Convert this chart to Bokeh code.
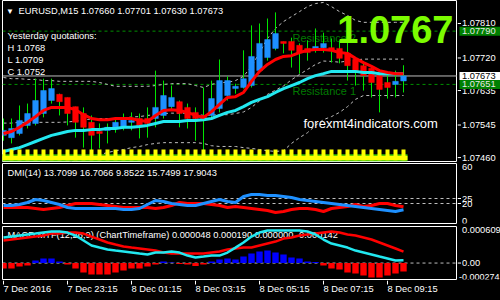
from bokeh.plotting import figure
from bokeh.layouts import column, row
from bokeh.models import Range1d, Span, Label, ColumnDataSource
from bokeh.embed import file_html
from bokeh.resources import INLINE
from bokeh.core.properties import value

# ---------------- data ----------------
bars = list(range(51))
opens = [1.07518, 1.07512, 1.07523, 1.07544, 1.07549, 1.07575, 1.07609, 1.07625, 1.07617, 1.07593,
         1.07575, 1.07552, 1.07528, 1.07531, 1.07539, 1.07541, 1.07552, 1.07562, 1.07562, 1.07562,
         1.07570, 1.07593, 1.07606, 1.07591, 1.07578, 1.07570, 1.07570, 1.07588, 1.07622, 1.07640,
         1.07643, 1.07648, 1.07687, 1.07721, 1.07745, 1.07763, 1.07763, 1.07753, 1.07745, 1.07742,
         1.07747, 1.07747, 1.07745, 1.07732, 1.07716, 1.07700, 1.07693, 1.07674, 1.07656, 1.07651,
         1.07660]
highs = [1.07562, 1.07562, 1.07596, 1.07601, 1.07666, 1.07666, 1.07666, 1.07627, 1.07617, 1.07593,
         1.07591, 1.07570, 1.07549, 1.07549, 1.07562, 1.07575, 1.07578, 1.07575, 1.07591, 1.07687,
         1.07661, 1.07648, 1.07609, 1.07601, 1.07591, 1.07643, 1.07661, 1.07716, 1.07672, 1.07653,
         1.07740, 1.07805, 1.07810, 1.07823, 1.07839, 1.07763, 1.07773, 1.07758, 1.07766, 1.07797,
         1.07786, 1.07771, 1.07766, 1.07773, 1.07721, 1.07706, 1.07695, 1.07682, 1.07682, 1.07687,
         1.07701]
lows = [1.07504, 1.07497, 1.07518, 1.07536, 1.07544, 1.07565, 1.07601, 1.07570, 1.07544, 1.07512,
        1.07486, 1.07478, 1.07484, 1.07497, 1.07525, 1.07531, 1.07531, 1.07510, 1.07512, 1.07539,
        1.07562, 1.07583, 1.07539, 1.07536, 1.07504, 1.07478, 1.07562, 1.07578, 1.07609, 1.07627,
        1.07640, 1.07643, 1.07682, 1.07713, 1.07740, 1.07732, 1.07695, 1.07679, 1.07713, 1.07734,
        1.07734, 1.07708, 1.07706, 1.07661, 1.07648, 1.07635, 1.07617, 1.07578, 1.07614, 1.07617,
        1.07630]
closes = [1.07531, 1.07536, 1.07557, 1.07575, 1.07609, 1.07635, 1.07640, 1.07606, 1.07575, 1.07552,
          1.07539, 1.07518, 1.07523, 1.07539, 1.07552, 1.07559, 1.07557, 1.07544, 1.07549, 1.07591,
          1.07622, 1.07617, 1.07575, 1.07562, 1.07562, 1.07562, 1.07614, 1.07661, 1.07661, 1.07646,
          1.07666, 1.07724, 1.07758, 1.07768, 1.07784, 1.07758, 1.07740, 1.07734, 1.07734, 1.07750,
          1.07758, 1.07740, 1.07719, 1.07700, 1.07682, 1.07674, 1.07656, 1.07638, 1.07643, 1.07659,
          1.07673]
ma_fast = [1.07523, 1.07528, 1.07539, 1.07552, 1.07567, 1.07583, 1.07591, 1.07591, 1.07591, 1.07585,
           1.07572, 1.07562, 1.07559, 1.07559, 1.07562, 1.07562, 1.07562, 1.07557, 1.07554, 1.07570,
           1.07583, 1.07585, 1.07583, 1.07578, 1.07570, 1.07565, 1.07580, 1.07599, 1.07617, 1.07619,
           1.07630, 1.07659, 1.07685, 1.07703, 1.07716, 1.07724, 1.07726, 1.07734, 1.07740, 1.07742,
           1.07742, 1.07740, 1.07734, 1.07732, 1.07719, 1.07708, 1.07698, 1.07687, 1.07682, 1.07679,
           1.07679]
ma_slow = [1.07476, 1.07481, 1.07486, 1.07494, 1.07502, 1.07510, 1.07518, 1.07523, 1.07528, 1.07531,
           1.07531, 1.07533, 1.07533, 1.07536, 1.07536, 1.07539, 1.07539, 1.07541, 1.07544, 1.07549,
           1.07554, 1.07554, 1.07554, 1.07557, 1.07557, 1.07559, 1.07562, 1.07570, 1.07578, 1.07583,
           1.07593, 1.07604, 1.07612, 1.07619, 1.07630, 1.07640, 1.07648, 1.07656, 1.07666, 1.07674,
           1.07679, 1.07685, 1.07685, 1.07685, 1.07685, 1.07682, 1.07682, 1.07679, 1.07679, 1.07679,
           1.07679]
band_up = [1.07669, 1.07666, 1.07666, 1.07664, 1.07664, 1.07661, 1.07661, 1.07659, 1.07659, 1.07659,
           1.07659, 1.07659, 1.07656, 1.07651, 1.07646, 1.07646, 1.07646, 1.07646, 1.07646, 1.07648,
           1.07651, 1.07653, 1.07653, 1.07653, 1.07648, 1.07643, 1.07651, 1.07656, 1.07656, 1.07661,
           1.07672, 1.07698, 1.07734, 1.07771, 1.07797, 1.07815, 1.07828, 1.07841, 1.07854, 1.07862,
           1.07865, 1.07854, 1.07841, 1.07831, 1.07818, 1.07813, 1.07813, 1.07813, 1.07813, 1.07813,
           1.07813]
band_mid = [1.07550, 1.07550, 1.07552, 1.07552, 1.07552, 1.07552, 1.07552, 1.07552, 1.07553, 1.07555,
            1.07558, 1.07561, 1.07562, 1.07562, 1.07562, 1.07563, 1.07566, 1.07567, 1.07570, 1.07572,
            1.07575, 1.07576, 1.07576, 1.07576, 1.07574, 1.07570, 1.07571, 1.07572, 1.07572, 1.07575,
            1.07579, 1.07591, 1.07608, 1.07625, 1.07636, 1.07647, 1.07663, 1.07677, 1.07690, 1.07703,
            1.07712, 1.07711, 1.07709, 1.07712, 1.07715, 1.07717, 1.07717, 1.07717, 1.07717, 1.07717,
            1.07717]
band_low = [1.07432, 1.07434, 1.07437, 1.07439, 1.07439, 1.07442, 1.07442, 1.07445, 1.07447, 1.07452,
            1.07458, 1.07463, 1.07468, 1.07473, 1.07478, 1.07481, 1.07486, 1.07489, 1.07494, 1.07497,
            1.07499, 1.07499, 1.07499, 1.07499, 1.07499, 1.07497, 1.07491, 1.07489, 1.07489, 1.07489,
            1.07486, 1.07484, 1.07481, 1.07478, 1.07476, 1.07478, 1.07497, 1.07512, 1.07525, 1.07544,
            1.07559, 1.07567, 1.07578, 1.07593, 1.07612, 1.07622, 1.07622, 1.07622, 1.07622, 1.07622,
            1.07622]
strip_level = 1.07481          # constant signal level of the bottom histogram
strip_base = 1.07465

dmi_plus = [18, 18, 19, 21, 24, 23, 21, 19, 16, 15, 15, 15, 15, 15, 15, 14, 14, 15, 19, 23,
            22, 20, 19, 18, 18, 20, 22, 24, 22, 21, 27, 29, 29, 28, 28, 27, 26, 24, 23, 22,
            21, 20, 19, 18, 17, 16, 15, 14, 13, 12, 13.7099]
dmi_minus = [16, 16, 16, 16, 15, 14, 15, 16, 18, 20, 20, 20, 19, 18, 17, 16, 16, 16, 16, 15,
             16, 18, 21, 20, 20, 20, 19, 18, 16, 17, 16, 15, 14, 13, 11, 12, 14, 15, 15, 14,
             12, 15, 16, 17, 19, 17, 18, 20, 20, 18, 16.7066]
dmi_levels = [25, 20]
dmi_max, dmi_min = 60, 0

macd_main = [v * 1e-6 for v in [425, 441, 458, 475, 491, 508, 525, 525, 508, 458,
             375, 292, 258, 225, 208, 192, 175, 158, 142, 175,
             175, 192, 175, 125, 92, 108, 125, 125, 175, 258,
             342, 441, 508, 541, 541, 541, 541, 541, 525, 475,
             392, 325, 292, 258, 208, 175, 142, 108, 75, 42, 48]]
macd_signal = [v * 1e-6 for v in [375, 392, 408, 425, 441, 458, 491, 491, 508, 508,
               491, 441, 392, 342, 308, 275, 258, 242, 225, 208,
               175, 158, 158, 158, 158, 158, 175, 192, 225, 242,
               258, 258, 292, 325, 358, 408, 425, 458, 475, 491,
               508, 525, 508, 475, 458, 425, 392, 342, 292, 242, 190]]
macd_hist = [v * 1e-6 for v in [-92, -92, -58, -42, 42, 75, 75, 25, -25, -92,
             -158, -192, -192, -192, -158, -125, -92, -92, -58, -25,
             25, 8, -17, -25, -50, -25, 25, 58, 75, 58,
             108, 158, 192, 208, 175, 142, 92, 75, 25, 17,
             -42, -92, -108, -158, -175, -208, -242, -242, -208, -175, -142]]
macd_max, macd_min = 0.000609, -0.000274

price_ticks = [1.07810, 1.07720, 1.07635, 1.07545, 1.07460]
resistance2, resistance1, bid = 1.07790, 1.07651, 1.07673
yest_h, yest_l, yest_c = "1.0768", "1.0709", "1.0752"
time_idx = [0, 8, 16, 24, 32, 40, 48]
time_txt = ["7 Dec 2016", "7 Dec 23:15", "8 Dec 01:15", "8 Dec 03:15",
            "8 Dec 05:15", "8 Dec 07:15", "8 Dec 09:15"]

# ---------------- styling helpers ----------------
FONT = "Liberation Sans"
FS = "9.3px"
BLUE, RED, WICK, AQUA = "#1E90FF", "#FF0000", "#00E600", "#22E8F0"
GRID = "#BEBEBE"

xr = Range1d(-0.125, 56.75)


def panel(h, yr, top, bottom, width=457, right=0):
    p = figure(width=width, height=h, x_range=xr, y_range=yr, output_backend="svg",
               toolbar_location=None, x_axis_location=None, y_axis_location=None,
               min_border=0, min_border_left=2, min_border_right=right, min_border_top=top,
               min_border_bottom=bottom, background_fill_color="black",
               border_fill_color="black", outline_line_color="white", outline_line_width=1)
    p.grid.visible = False
    return p


def strip(h, yr, top, bottom):
    s = figure(width=43, height=h, x_range=Range1d(0, 43), y_range=yr, output_backend="svg",
               toolbar_location=None, x_axis_location=None, y_axis_location=None,
               min_border=0, min_border_left=0, min_border_right=0, min_border_top=top,
               min_border_bottom=bottom, background_fill_color="black",
               border_fill_color="black", outline_line_color=None)
    s.grid.visible = False
    return s


def tick_labels(s, ys, texts, baseline="middle", color="white", x=4.5, size=FS):
    s.text(x=[x] * len(ys), y=ys, text=texts, text_color=color, text_font=value(FONT),
           text_font_size=value(size), text_align="left", text_baseline=baseline)


def ticks(s, ys):
    s.segment(x0=[0] * len(ys), y0=ys, x1=[3.5] * len(ys), y1=ys, line_color="white",
              line_width=1)


def lab(p, x, y, text, color="white", size=FS, align="left", xu="screen", yu="screen",
        style="normal", level="annotation"):
    l = Label(x=x, y=y, x_units=xu, y_units=yu, text=text, text_color=color,
              text_font=FONT, text_font_size=size, text_align=align,
              text_baseline="middle", text_font_style=style, level=level)
    p.add_layout(l)
    return l


# ---------------- main price panel ----------------
yr_main = Range1d(1.074498, 1.07870)
main = panel(162, yr_main, 0, 1)

for lv, col, dash in [(resistance2, "#009000", "3 3"), (resistance1, "#009000", "3 3"),
                      (bid, GRID, "solid")]:
    main.add_layout(Span(location=lv, dimension="width", line_color=col, line_width=1,
                         line_dash=dash, level="underlay"))

lab(main, 290, 124, "Resistance 2", color="#007A00", size="11px", level="underlay")
lab(main, 290, 71, "Resistance 1", color="#007A00", size="11px", level="underlay")

for band in (band_up, band_mid, band_low):
    main.line(bars, band, line_color=GRID, line_width=1, line_dash="3 3")

up = [c >= o for o, c in zip(opens, closes)]
src = ColumnDataSource(dict(x=bars, h=highs, l=lows,
                            top=[max(o, c) for o, c in zip(opens, closes)],
                            bot=[min(o, c) for o, c in zip(opens, closes)],
                            col=[BLUE if u else RED for u in up]))
main.segment("x", "h", "x", "l", source=src, line_color=WICK, line_width=1)
main.vbar(x="x", top="top", bottom="bot", width=0.7, source=src, fill_color="col",
          line_color="col", line_width=0.5)

main.line(bars, ma_slow, line_color=AQUA, line_width=3)
main.line(bars, ma_fast, line_color=RED, line_width=3)

# bottom signal strip (yellow comb with green edge)
main.quad(left=bars[0] - 0.5, right=bars[-1] + 0.5, bottom=yr_main.start, top=strip_base + 0.00004,
          fill_color="#2FBF00", line_color=None)
main.quad(left=bars[0] - 0.5, right=bars[-1] + 0.5, bottom=yr_main.start + 0.00003, top=strip_base,
          fill_color="#FFFF00", line_color=None)
main.vbar(x=bars, top=strip_level, bottom=yr_main.start + 0.00003, width=0.5,
          fill_color="#FFFF00", line_color=None)

lab(main, 7.5, 150.5, "\u25BC", size="8px", align="center")
lab(main, 16, 150.3, "EURUSD,M15  %.5f %.5f %.5f %.5f" % (opens[-1], highs[-1], lows[-1], closes[-1]))
lab(main, 5, 125.3, "Yesterday quotations:")
lab(main, 5, 113.5, "H " + yest_h)
lab(main, 5, 101.5, "L " + yest_l)
lab(main, 5, 90, "C " + yest_c)
lab(main, 301, 38, "forexmt4indicators.com", size="13px")
lab(main, 451, 132, "%.4f" % closes[-1], color="#7CFC00", size="38px", align="right", style="bold")

main_r = strip(162, yr_main, 0, 1)
ticks(main_r, price_ticks)
tick_labels(main_r, price_ticks, ["%.5f" % v for v in price_ticks])
main_r.rect(x=[22.5, 22.5], y=[resistance2, resistance1], width=41, height=9,
            height_units="screen", fill_color="#008000", line_color=None)
main_r.rect(x=[22.5], y=[bid], width=41, height=8, height_units="screen",
            fill_color="white", line_color=None)
tick_labels(main_r, [resistance2, resistance1], ["%.5f" % resistance2, "%.5f" % resistance1],
            color="#E8E8E8")
tick_labels(main_r, [bid], ["%.5f" % bid], color="black")

# ---------------- DMI panel ----------------
dmi = panel(63, Range1d(dmi_min, dmi_max), 1, 2)
for lv in dmi_levels:
    dmi.add_layout(Span(location=lv, dimension="width", line_color=GRID, line_width=1,
                        line_dash="3 3", level="underlay"))
dmi.line(bars, dmi_minus, line_color=RED, line_width=3)
dmi.line(bars, dmi_plus, line_color=BLUE, line_width=3)
lab(dmi, 5, 50.3, "DMI(14) 13.7099 16.7066 9.8522 15.7499 17.9043")

dmi_r = strip(63, dmi.y_range, 1, 2)
ticks(dmi_r, dmi_levels)
tick_labels(dmi_r, dmi_levels, [str(v) for v in dmi_levels])
tick_labels(dmi_r, [dmi_max], [str(dmi_max)], baseline="top")
tick_labels(dmi_r, [dmi_min], [str(dmi_min)], baseline="bottom")

# ---------------- MACD panel ----------------
macd = panel(55, Range1d(macd_min, macd_max), 1, 1)
macd.add_layout(Span(location=0, dimension="width", line_color=GRID, line_width=1,
                     line_dash="3 3", level="underlay"))
lab(macd, 5, 44.5, "MACD MTF(12,26,9) (ChartTimeframe) 0.000048 0.000190 0.000000 -0.000142",
    level="underlay")
macd.vbar(x=bars, top=macd_hist, bottom=0, width=0.8,
          fill_color=["#0000FF" if v > 0 else "#FF0000" for v in macd_hist], line_color=None)
macd.line(bars, macd_signal, line_color=RED, line_width=2.5)
macd.line(bars, macd_main, line_color=AQUA, line_width=2.5)

macd_r = strip(55, macd.y_range, 1, 1)
ticks(macd_r, [0])
tick_labels(macd_r, [0], ["0.00"])
tick_labels(macd_r, [macd_max], ["%.6f" % macd_max], baseline="top")
tick_labels(macd_r, [macd_min], ["%.6f" % macd_min], baseline="bottom", x=1.5, size="9px")

# ---------------- time axis strip ----------------
tax = figure(width=500, height=20, x_range=xr, y_range=Range1d(-12, 8), output_backend="svg",
             toolbar_location=None, x_axis_location=None, y_axis_location=None,
             min_border=0, min_border_left=2, min_border_right=43, min_border_top=0,
             min_border_bottom=0, background_fill_color="black", border_fill_color="black",
             outline_line_color=None)
tax.grid.visible = False
tax.segment(x0=time_idx, y0=[8] * len(time_idx), x1=time_idx, y1=[4] * len(time_idx),
            line_color="white", line_width=1)
tax.text(x=time_idx, y=[0] * len(time_idx), text=time_txt, text_color="white",
         text_font=value(FONT), text_font_size=value(FS), text_align="left",
         text_baseline="middle")

layout = column(row(main, main_r, spacing=0), row(dmi, dmi_r, spacing=0),
                row(macd, macd_r, spacing=0), tax, spacing=0, background="black")
open("out.html", "w").write(file_html(layout, INLINE))
